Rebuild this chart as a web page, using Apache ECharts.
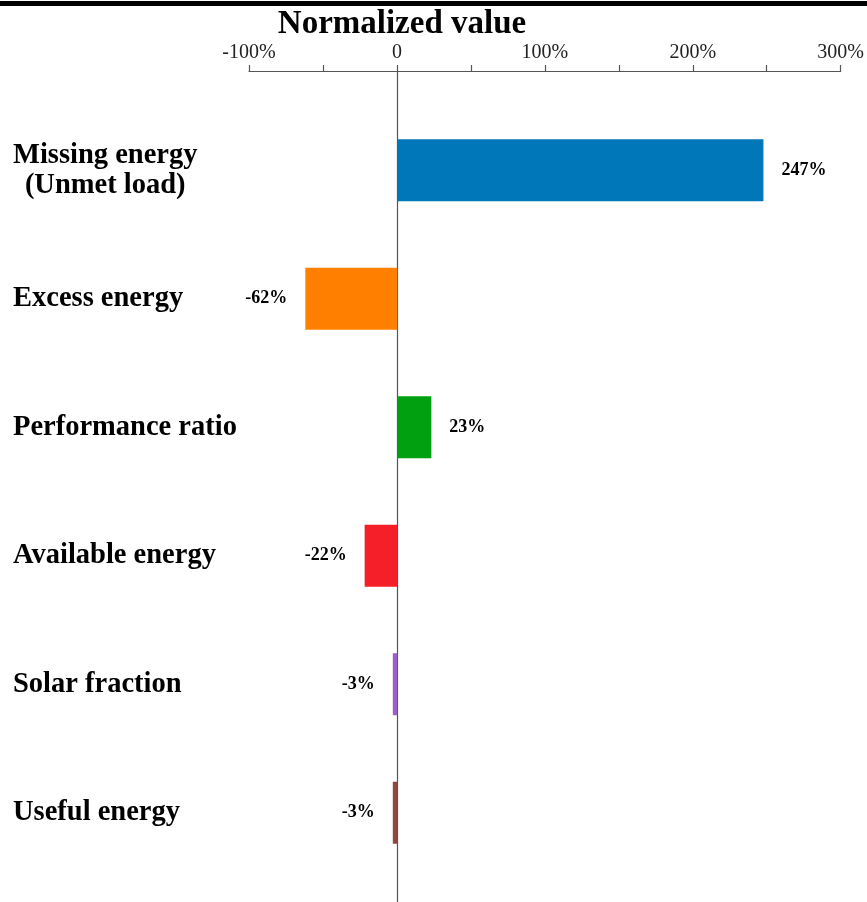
<!DOCTYPE html>
<html>
<head>
<meta charset="utf-8">
<script src="https://cdn.jsdelivr.net/npm/echarts@6/dist/echarts.min.js"></script>
<style>html,body{margin:0;padding:0;background:#fff}#c{width:867px;height:902px}</style>
</head>
<body>
<div id="c"></div>
<script>
var categories = ['Missing energy\n(Unmet load)', 'Excess energy', 'Performance ratio', 'Available energy', 'Solar fraction', 'Useful energy'];
var values = [247, -62, 23, -22, -3, -3];
var barColors = ['#0077b8', '#ff7f00', '#00a010', '#f52027', '#9b5fc8', '#8c4a3e'];
var tickValues = [-100, 0, 100, 200, 300];

var serif = '"Liberation Serif", "Times New Roman", serif';
var chart = echarts.init(document.getElementById('c'), null, {renderer: 'canvas'});

var seriesData = values.map(function (v, i) {
  return {
    value: v,
    itemStyle: {color: barColors[i]},
    label: {position: v >= 0 ? 'right' : 'left'}
  };
});

chart.setOption({
  animation: false,
  backgroundColor: '#fff',
  title: {
    text: 'Normalized value',
    left: 397,
    textAlign: 'center',
    top: 3,
    textStyle: {fontFamily: serif, fontWeight: 'bold', fontSize: 33, color: '#000'}
  },
  graphic: [{
    type: 'rect', left: 0, top: 1, shape: {width: 867, height: 5}, style: {fill: '#000'}
  }],
  grid: [
    {left: 249, right: 25, top: 106, bottom: 25},
    {left: 249, right: 25, top: 71, bottom: 0}
  ],
  xAxis: [
    {gridIndex: 0, type: 'value', min: -100, max: 300, interval: 50, show: false},
    {gridIndex: 1, type: 'value', position: 'top', min: -100, max: 300, interval: 50,
      axisLine: {show: true, onZero: false, lineStyle: {color: '#555', width: 1.2}},
      axisTick: {show: true, length: 6, lineStyle: {color: '#555', width: 1.2}},
      splitLine: {show: false},
      axisLabel: {
        margin: 8, fontFamily: serif, fontSize: 20, color: '#222',
        formatter: function (v) {
          if (tickValues.indexOf(v) < 0) return '';
          return v === 0 ? '0' : v + '%';
        }
      }
    }
  ],
  yAxis: [
    {gridIndex: 0, type: 'category', inverse: true, data: categories,
      axisLine: {show: false, onZero: false}, axisTick: {show: false}, splitLine: {show: false},
      axisLabel: {
        align: 'left', margin: 236, color: '#000',
        fontFamily: serif, fontWeight: 'bold', fontSize: 28.5, lineHeight: 30,
        formatter: function (v) {
          return v.split('\n').map(function (s) { return '{c|' + s + '}'; }).join('\n');
        },
        rich: {c: {align: 'center', fontFamily: serif, fontWeight: 'bold', fontSize: 28.5, lineHeight: 30, color: '#000'}}
      }
    },
    {gridIndex: 1, type: 'value', min: 0, max: 1,
      axisLine: {show: true, onZero: true, lineStyle: {color: '#555', width: 1.2}},
      axisTick: {show: false}, axisLabel: {show: false}, splitLine: {show: false}
    }
  ],
  series: [{
    type: 'bar',
    xAxisIndex: 0, yAxisIndex: 0,
    barWidth: 62,
    data: seriesData,
    label: {
      show: true, distance: 18,
      fontFamily: serif, fontWeight: 'bold', fontSize: 18, color: '#000',
      formatter: function (p) { return p.value + '%'; }
    },
    z: 1
  }]
});
</script>
</body>
</html>
